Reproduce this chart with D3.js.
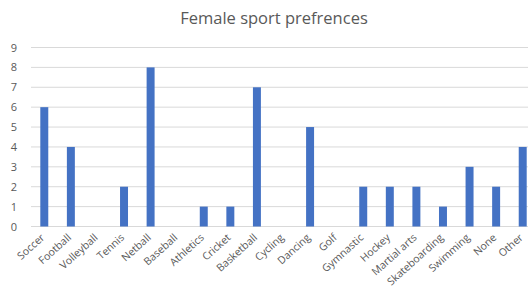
<!DOCTYPE html>
<html>
<head>
<meta charset="utf-8">
<script src="https://cdn.jsdelivr.net/npm/d3@7"></script>
<style>
body{margin:0;background:#fff;}
svg{display:block;}
</style>
</head>
<body>
<svg id="chart"></svg>
<script>
// chart data
var sports=["Soccer","Football","Volleyball","Tennis","Netball","Baseball","Athletics","Cricket","Basketball","Cycling","Dancing","Golf","Gymnastic","Hockey","Martial arts","Skateboarding","Swimming","None","Other"]
var counts=[6,4,0,2,8,0,1,1,7,0,5,0,2,2,2,1,3,2,4]
var yTicks=[0,1,2,3,4,5,6,7,8,9]
var title="Female sport prefrences"

var screen={width:528,height:293}
var svg=d3.select("#chart")
    .attr("width",screen.width)
    .attr("height",screen.height)

var xScale=d3.scaleBand()
    .domain(sports)
    .range([31,536])
    .paddingInner(0.7)
    .paddingOuter(0.35)
var yScale=d3.scaleLinear()
    .domain([0,9])
    .range([226.5,47.5])

//gridlines
svg.append("g")
    .selectAll("line")
    .data(yTicks)
    .enter()
    .append("line")
    .attr("x1",31)
    .attr("x2",screen.width)
    .attr("y1",function(d){return yScale(d)})
    .attr("y2",function(d){return yScale(d)})
    .attr("stroke","#d9d9d9")
    .attr("stroke-width",1)

//y labels
var yAxis=svg.append("g")
    .attr("transform","translate(17,0)")
    .call(d3.axisLeft(yScale).tickValues(yTicks).tickSize(0).tickPadding(0))
yAxis.select(".domain").remove()
yAxis.selectAll("text")
    .attr("fill","#595959")
    .style("font-family","'Open Sans', sans-serif")
    .style("font-size","11px")

//bars
svg.append("g")
    .selectAll("rect")
    .data(counts)
    .enter()
    .append("rect")
    .attr("x",function(d,i){return xScale(sports[i])})
    .attr("width",xScale.bandwidth())
    .attr("y",function(d){return yScale(d)})
    .attr("height",function(d){return yScale(0)-yScale(d)})
    .attr("fill","#4472c4")

//x labels
var xAxis=svg.append("g")
    .attr("transform","translate(0,"+yScale(0)+")")
    .call(d3.axisBottom(xScale).tickSize(0).tickPadding(0))
xAxis.select(".domain").remove()
xAxis.selectAll("text")
    .attr("fill","#595959")
    .style("font-family","'Open Sans', sans-serif")
    .style("font-size","10.5px")
    .attr("text-anchor","end")
    .attr("dy","0")
    .attr("transform","translate(1,12) rotate(-42)")

//title
svg.append("text")
    .attr("x",274)
    .attr("y",24)
    .attr("text-anchor","middle")
    .attr("fill","#595959")
    .style("font-family","'Open Sans', sans-serif")
    .style("font-size","16.5px")
    .text(title)
</script>
</body>
</html>
